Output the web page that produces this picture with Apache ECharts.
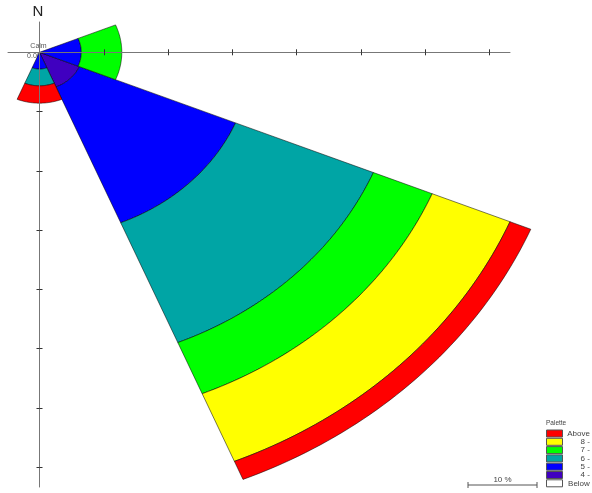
<!DOCTYPE html>
<html>
<head>
<meta charset="utf-8">
<script src="https://cdn.jsdelivr.net/npm/echarts@6/dist/echarts.min.js"></script>
<style>
  html, body { margin: 0; padding: 0; background: #fff; }
  #box { width: 592px; height: 493px; }
</style>
</head>
<body>
<div id="box"></div>
<script>
// wind directions (bearing of sector centre, degrees clockwise from north)
var directions = ['N', 'NE', 'E', 'SE', 'S', 'SW', 'W', 'NW'];
var bearings = [0, 45, 90, 135, 180, 225, 270, 315];
var sectorWidth = 45;

// frequency (%) per speed class and direction
var binNames = ['Below 4', '4 - 5', '5 - 6', '6 - 7', '7 - 8', '8 - 9', 'Above 9'];
var below4  = [0, 0, 0,    0,    0,   0, 0, 0];
var bin4to5 = [0, 0, 0,    6.7,  0,   0, 0, 0];
var bin5to6 = [0, 0, 6.5,  26.3, 3.0, 0, 0, 0];
var bin6to7 = [0, 0, 0,    23.2, 3.0, 0, 0, 0];
var bin7to8 = [0, 0, 6.3,  9.9,  0,   0, 0, 0];
var bin8to9 = [0, 0, 0,    13.1, 0,   0, 0, 0];
var above9  = [0, 0, 0,    3.5,  3.1, 0, 0, 0];
var binValues = [below4, bin4to5, bin5to6, bin6to7, bin7to8, bin8to9, above9];
var binColors = ['#ffffff', '#4000c0', '#0000ff', '#00a5a5', '#00ff00', '#ffff00', '#ff0000'];

// axis ticks (%)
var xTicks = [10, 20, 30, 40, 50, 60, 70];
var yTicks = [-10.6, -21.2, -31.8, -42.4, -53.0, -63.6, -74.2];
var calmText = '0.00%';

var myChart = echarts.init(document.getElementById('box'));

function toRad(d) { return d * Math.PI / 180; }

function ringShape(api, bearing, r0, r1, color) {
    var a0 = bearing - sectorWidth / 2, a1 = bearing + sectorWidth / 2;
    var pts = [], n = 48, i, a;
    for (i = 0; i <= n; i++) {
        a = toRad(a0 + (a1 - a0) * i / n);
        pts.push(api.coord([r1 * Math.sin(a), r1 * Math.cos(a)]));
    }
    if (r0 > 0) {
        for (i = n; i >= 0; i--) {
            a = toRad(a0 + (a1 - a0) * i / n);
            pts.push(api.coord([r0 * Math.sin(a), r0 * Math.cos(a)]));
        }
    } else {
        pts.push(api.coord([0, 0]));
    }
    return {
        type: 'polygon',
        shape: { points: pts },
        style: { fill: color, stroke: 'rgba(0,0,0,0.75)', lineWidth: 0.7 }
    };
}

// stack the classes outward
var cum = bearings.map(function () { return 0; });
var series = binNames.map(function (name, b) {
    var data = bearings.map(function (br, i) {
        var r0 = cum[i];
        cum[i] += binValues[b][i];
        return [i, r0, cum[i]];
    });
    return {
        name: name,
        type: 'custom',
        coordinateSystem: 'cartesian2d',
        xAxisIndex: 0,
        yAxisIndex: 0,
        z: 2,
        itemStyle: { color: binColors[b] },
        renderItem: function (params, api) {
            var i = api.value(0), r0 = api.value(1), r1 = api.value(2);
            if (r1 - r0 <= 0) return null;
            return ringShape(api, bearings[i], r0, r1, binColors[b]);
        },
        data: data
    };
});

var gridBox = { left: 8, width: 502, top: 22, height: 465 };
var xRange = { min: -4.9, max: 73.17 };
var yRange = { min: -77.76, max: 5.42 };

function xAx(idx, pos, showLine) {
    return {
        type: 'value', gridIndex: idx, position: pos, min: xRange.min, max: xRange.max,
        z: 5, splitLine: { show: false }, axisLabel: { show: false },
        axisLine: { show: showLine, onZero: true, lineStyle: { color: '#777', width: 1 } },
        axisTick: { show: true, length: 3, customValues: xTicks, lineStyle: { color: '#333' } }
    };
}
function yAx(idx, pos, showLine) {
    return {
        type: 'value', gridIndex: idx, position: pos, min: yRange.min, max: yRange.max,
        z: 5, splitLine: { show: false }, axisLabel: { show: false },
        axisLine: { show: showLine, onZero: true, lineStyle: { color: '#777', width: 1 } },
        axisTick: { show: true, length: 3, customValues: yTicks, lineStyle: { color: '#333' } }
    };
}

var legendData = binNames.slice().reverse();

var option = {
    backgroundColor: '#fff',
    animation: false,
    grid: [gridBox, gridBox],
    xAxis: [xAx(0, 'bottom', true), xAx(1, 'top', false)],
    yAxis: [yAx(0, 'left', true), yAx(1, 'right', false)],
    legend: {
        orient: 'vertical',
        left: 546,
        top: 429.5,
        padding: 0,
        itemGap: 0.3,
        itemWidth: 16,
        itemHeight: 7,
        icon: 'rect',
        selectedMode: false,
        itemStyle: { borderColor: '#555', borderWidth: 1 },
        data: legendData,
        formatter: function (name) { return '{a|' + name + '}'; },
        textStyle: {
            fontFamily: 'Liberation Sans',
            fontSize: 8,
            lineHeight: 8,
            color: '#444',
            rich: { a: { width: 29, align: 'right', fontSize: 8, lineHeight: 8, color: '#444' } }
        }
    },
    graphic: [
        { type: 'text', x: 38, y: 12, z: 10,
          style: { text: 'N', fontFamily: 'Liberation Sans', fontSize: 15, fill: '#222',
                   align: 'center', verticalAlign: 'middle' } },
        { type: 'text', x: 38.5, y: 46.5, z: 1,
          style: { text: 'Calm', fontFamily: 'Liberation Sans', fontSize: 7, fill: '#555',
                   align: 'center', verticalAlign: 'middle' } },
        { type: 'text', x: 37, y: 56, z: 1,
          style: { text: calmText, fontFamily: 'Liberation Sans', fontSize: 7, fill: '#555',
                   align: 'center', verticalAlign: 'middle' } },
        { type: 'text', x: 546, y: 423, z: 10,
          style: { text: 'Palette', fontFamily: 'Liberation Sans', fontSize: 6.5, fill: '#444',
                   align: 'left', verticalAlign: 'middle' } },
        // scale bar
        { type: 'line', z: 10, shape: { x1: 468, y1: 485, x2: 537, y2: 485 },
          style: { stroke: '#555', lineWidth: 1 } },
        { type: 'line', z: 10, shape: { x1: 468, y1: 482, x2: 468, y2: 488 },
          style: { stroke: '#555', lineWidth: 1 } },
        { type: 'line', z: 10, shape: { x1: 537, y1: 482, x2: 537, y2: 488 },
          style: { stroke: '#555', lineWidth: 1 } },
        { type: 'text', x: 502.5, y: 480, z: 10,
          style: { text: '10 %', fontFamily: 'Liberation Sans', fontSize: 8, fill: '#444',
                   align: 'center', verticalAlign: 'middle' } }
    ],
    series: series
};

myChart.setOption(option);
</script>
</body>
</html>
